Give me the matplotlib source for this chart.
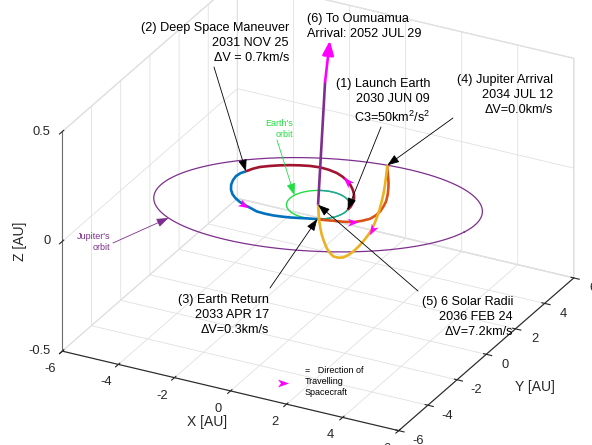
import numpy as np
import matplotlib
matplotlib.use('Agg')
import matplotlib.pyplot as plt
from matplotlib.markers import MarkerStyle
from matplotlib.path import Path
from matplotlib.transforms import Affine2D
from matplotlib.lines import Line2D
from mpl_toolkits.mplot3d import proj3d

plt.rcParams['font.family'] = ['Liberation Sans', 'DejaVu Sans']
plt.rcParams['mathtext.fontset'] = 'custom'
plt.rcParams['mathtext.rm'] = 'Liberation Sans'
plt.rcParams['axes.unicode_minus'] = False
plt.rcParams['grid.color'] = '#e0e0e0'
plt.rcParams['grid.linewidth'] = 0.6

# planet orbits [AU], [deg]
earth_r = 1.0
earth_teal = (-64, 116)
jup_r = 5.2
jup_incl = 1.44
jup_node = 194.0

x_ticks = [-6, -4, -2, 0, 2, 4, 6]
y_ticks = [-6, -4, -2, 0, 2, 4, 6]
z_ticks = [-0.5, 0, 0.5]
z_labels = ['-0.5', '0', '0.5']

# (1) launch -> (2) deep space maneuver
leg1_x = [0.99, 0.978, 0.913, 0.795, 0.651, 0.49, 0.283, 0.04, -0.216, -0.498, -0.835,
          -1.149, -1.475, -1.775, -2.063, -2.337, -2.599, -2.847, -2.997, -3.10]
leg1_y = [0.12, 0.351, 0.632, 0.941, 1.204, 1.436, 1.683, 1.91, 2.092, 2.237, 2.321,
          2.34, 2.281, 2.172, 2.038, 1.88, 1.696, 1.488, 1.261, 1.01]
leg1_z = [0.0] * 20

# (2) DSM -> (3) earth return
leg2_x = [-3.10, -3.195, -3.225, -3.18, -3.085, -2.929, -2.742, -2.528, -2.303, -2.079,
          -1.814, -1.506, -1.198, -0.910, -0.644, -0.377, -0.122, 0.122, 0.44]
leg2_y = [1.01, 0.82, 0.568, 0.277, -0.029, -0.341, -0.598, -0.802, -0.96, -1.081,
          -1.179, -1.31, -1.331, -1.315, -1.264, -1.196, -1.102, -1.008, -0.90]
leg2_z = [0.0] * 19

# (3) earth return -> (4) jupiter
leg3_x = [0.44, 0.685, 0.924, 1.193, 1.444, 1.598, 1.70, 1.687, 1.62, 1.492, 1.342,
          1.10, 0.832, 0.611, 0.40, 0.194, 0.0, -0.23]
leg3_y = [-0.90, -0.833, -0.724, -0.577, -0.352, -0.051, 0.30, 0.703, 1.14, 1.625, 2.08,
          2.658, 3.22, 3.656, 4.04, 4.408, 4.75, 5.19]
leg3_z = [0.0, -0.001, -0.003, -0.008, -0.015, -0.022, -0.03, -0.039, -0.048, -0.056,
          -0.065, -0.075, -0.085, -0.093, -0.10, -0.108, -0.115, -0.128]

# (4) jupiter -> (5) 6 solar radii
leg4_x = [-0.23, -0.224, -0.22, -0.216, -0.21, -0.203, -0.195, -0.186, -0.177, -0.164,
          -0.149, -0.133, -0.116, -0.10, -0.083, -0.067, -0.05, -0.038, -0.029, -0.02,
          -0.012, -0.008, -0.004, -0.002, -0.001, 0.0]
leg4_y = [5.19, 5.10, 5.01, 4.906, 4.764, 4.615, 4.435, 4.233, 4.016, 3.717,
          3.388, 3.029, 2.64, 2.266, 1.892, 1.518, 1.144, 0.868, 0.651, 0.449,
          0.277, 0.172, 0.097, 0.045, 0.022, 0.0]
leg4_z = [-0.128, -0.169, -0.205, -0.238, -0.267, -0.293, -0.316, -0.335, -0.351, -0.361,
          -0.367, -0.37, -0.369, -0.363, -0.352, -0.331, -0.303, -0.27, -0.236, -0.195,
          -0.153, -0.117, -0.082, -0.048, -0.016, 0.0]

# (5) -> (6) oumuamua
leg5_x = [0.0, 0.25, 0.42]
leg5_y = [0.0, 0.0, 0.0]
leg5_z = [0.0, 0.567, 0.76]

fig = plt.figure(figsize=(5.92, 4.45), dpi=100)
ax = fig.add_axes([0.0402, -0.1213, 0.968, 1.2876], projection='3d', computed_zorder=False)
ax.set_proj_type('ortho')
ax.set_xlim(-6, 6)
ax.set_ylim(-6, 6)
ax.set_zlim(-0.5, 0.5)
ax.set_box_aspect((1, 1, 0.65))
ax.view_init(elev=27, azim=-62.5)

for axis in (ax.xaxis, ax.yaxis, ax.zaxis):
    axis.set_pane_color((1, 1, 1, 1))
    axis.pane.set_edgecolor('#e0e0e0')
    axis.line.set_color('#262626')
    axis.line.set_linewidth(0.8)
ax.zaxis.line.set_color('#6e6e6e')
ax.zaxis.set_ticks_position('lower')
ax.set_xticks(x_ticks)
ax.set_yticks(y_ticks)
ax.set_zticks(z_ticks)
ax.set_xticklabels([])
ax.set_yticklabels([])
ax.set_zticklabels([])
ax.tick_params(colors='#262626')

M = ax.get_proj()


def flat(px, py, pz):
    x2, y2, _ = proj3d.proj_transform(px, py, pz, M)
    return x2, y2


tick_kw = dict(textcoords='offset pixels', va='center', fontsize=9.3, color='#262626',
               annotation_clip=False)
for t in x_ticks:
    ax.annotate(f'{t:g}', xy=flat(t, -6, -0.5), xytext=(-12, -18), ha='center', **tick_kw)
for t in y_ticks:
    ax.annotate(f'{t:g}', xy=flat(6, t, -0.5), xytext=(19, -10.5), ha='center', **tick_kw)
for t, s in zip(z_ticks, z_labels):
    ax.annotate(s, xy=flat(-6, -6, t), xytext=(-12, 0), ha='right', **tick_kw)

lab_kw = dict(textcoords='offset pixels', ha='center', va='center', fontsize=10,
              color='#262626', annotation_clip=False)
ax.annotate('X [AU]', xy=flat(0, -6, -0.5), xytext=(-23.5, -31), **lab_kw)
ax.annotate('Y [AU]', xy=flat(6, 0, -0.5), xytext=(49, -32.5), **lab_kw)
ax.annotate('Z [AU]', xy=flat(-6, -6, 0), xytext=(-42, 0), rotation=90, **lab_kw)

# orbits
th = np.radians(np.arange(0, 361))
jz = jup_r * np.sin(np.radians(jup_incl)) * np.sin(th - np.radians(jup_node))
ax.plot(jup_r * np.cos(th), jup_r * np.sin(th), jz, color='#7E2F8E', lw=0.9, zorder=1)
ax.plot(earth_r * np.cos(th), earth_r * np.sin(th), 0 * th, color='#22DD44', lw=1.0, zorder=2)
tt = np.radians(np.arange(earth_teal[0], earth_teal[1] + 1))
ax.plot(earth_r * np.cos(tt), earth_r * np.sin(tt), 0 * tt, color='#1FA3A0', lw=1.0, zorder=3)

legs = [(leg1_x, leg1_y, leg1_z, '#A2142F'),
        (leg2_x, leg2_y, leg2_z, '#0072BD'),
        (leg3_x, leg3_y, leg3_z, '#D95319'),
        (leg4_x, leg4_y, leg4_z, '#EDB120'),
        (leg5_x[:2], leg5_y[:2], leg5_z[:2], '#7E2F8E')]
for lx, ly, lz, c in legs:
    ax.plot(lx, ly, lz, color=c, lw=1.9, solid_capstyle='butt', solid_joinstyle='round', zorder=4)

head = Path([(1, 0), (-1, 0.7), (-0.45, 0), (-1, -0.7), (1, 0)],
            [Path.MOVETO, Path.LINETO, Path.LINETO, Path.LINETO, Path.CLOSEPOLY])


def head_marker(angle):
    return MarkerStyle(head, transform=Affine2D().rotate_deg(angle))


# direction of travel markers (leg, index)
for leg, i in [(1, 9), (0, 7), (2, 4), (3, 8)]:
    lx, ly, lz, _ = legs[leg]
    a = flat(lx[i - 1], ly[i - 1], lz[i - 1])
    b = flat(lx[i + 1], ly[i + 1], lz[i + 1])
    ang = np.degrees(np.arctan2(b[1] - a[1], b[0] - a[0]))
    ax.plot([lx[i]], [ly[i]], [lz[i]], ls='none', marker=head_marker(ang),
            ms=8, color='#FF00FF', mec='none', zorder=6)

ax.annotate('', xy=flat(leg5_x[2], leg5_y[2], leg5_z[2]), xytext=flat(leg5_x[1], leg5_y[1], leg5_z[1]),
            arrowprops=dict(arrowstyle='-|>,head_length=0.7,head_width=0.28', color='#FF00FF',
                            lw=1.9, shrinkA=0, shrinkB=0, mutation_scale=12), zorder=7)

H = 445


def note(text, x, y, tail=None, target=None, color='black', size=9.1, ha='right'):
    fig.text(x / 592, 1 - y / H, text, ha=ha, va='top', fontsize=size, color=color,
             linespacing=1.35)
    if tail is None:
        return
    ax.annotate('', xy=flat(*target), xytext=(tail[0], H - tail[1]), textcoords='figure pixels',
                arrowprops=dict(arrowstyle='-|>,head_length=0.6,head_width=0.22', color=color,
                                lw=0.6, shrinkA=0, shrinkB=0, mutation_scale=12), zorder=8)


def jup_point(deg):
    a = np.radians(deg)
    return (jup_r * np.cos(a), jup_r * np.sin(a),
            jup_r * np.sin(np.radians(jup_incl)) * np.sin(a - np.radians(jup_node)))


earth_lab = np.radians(166)
note('(2) Deep Space Maneuver\n2031 NOV 25\n\u0394V = 0.7km/s', 289, 22, (214, 67),
     (leg1_x[-1], leg1_y[-1], 0))
note('(6) To Oumuamua\nArrival: 2052 JUL 29', 307, 13, ha='left')
note('(1) Launch Earth\n2030 JUN 09\nC3=50km$^2$/s$^2$', 430, 78, (381, 127),
     (leg1_x[0], leg1_y[0], 0))
note('(4) Jupiter Arrival\n2034 JUL 12\n\u0394V=0.0km/s', 553, 74, (453, 118),
     (leg3_x[-1], leg3_y[-1], leg3_z[-1]))
note('(3) Earth Return\n2033 APR 17\n\u0394V=0.3km/s', 269, 294, (270, 288),
     (leg2_x[-1], leg2_y[-1], 0))
note('(5) 6 Solar Radii\n2036 FEB 24\n\u0394V=7.2km/s', 513, 296, (418, 291), (0, 0, 0))
note("Earth's\norbit", 293, 119, (277, 140),
     (earth_r * np.cos(earth_lab), earth_r * np.sin(earth_lab), 0), color='#22DD44', size=6.5)
note("Jupiter's\norbit", 110, 232, (113, 243), jup_point(232), color='#7E2F8E', size=6.5)

fig.text(305 / 592, 1 - 366 / H, '=   Direction of\nTravelling\nSpacecraft', fontsize=6.5,
         va='top', ha='left', linespacing=1.3)
fig.add_artist(Line2D([283 / 592], [1 - 383 / H], transform=fig.transFigure, ls='none',
                      marker=head_marker(0), ms=8, color='#FF00FF', mec='none'))

fig.savefig('out.png', dpi=100)
